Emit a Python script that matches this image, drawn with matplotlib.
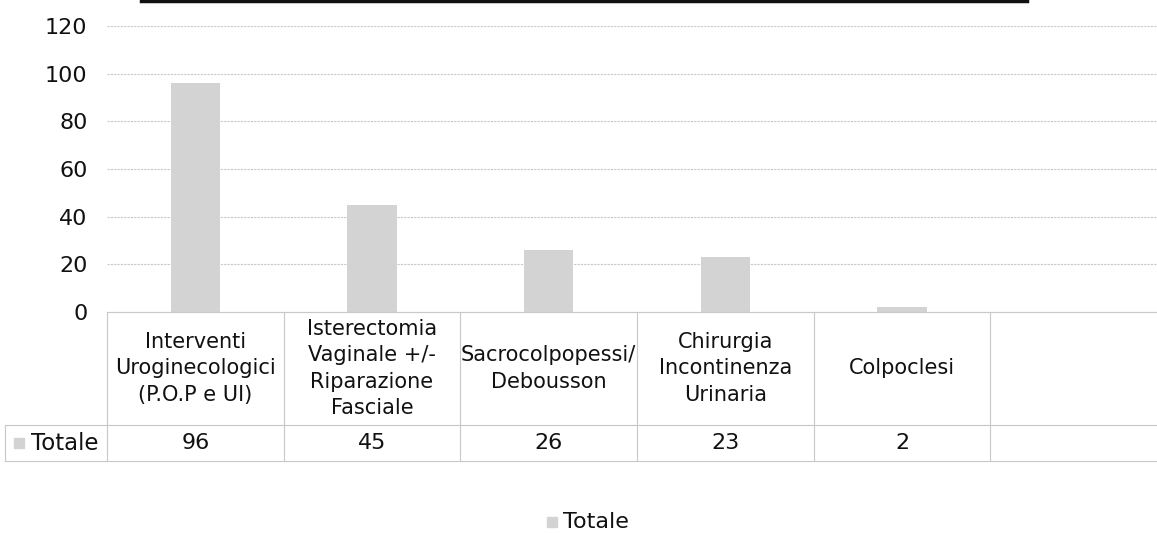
import matplotlib
matplotlib.use("Agg")
import matplotlib.pyplot as plt
from matplotlib.lines import Line2D
from matplotlib.patches import Rectangle
import matplotlib.transforms as mtransforms

# chart data
categories = [
    "Interventi\nUroginecologici\n(P.O.P e UI)",
    "Isterectomia\nVaginale +/-\nRiparazione\nFasciale",
    "Sacrocolpopessi/\nDebousson",
    "Chirurgia\nIncontinenza\nUrinaria",
    "Colpoclesi",
    "",
]
values = [96, 45, 26, 23, 2, None]
series_name = "Totale"
y_ticks = [0, 20, 40, 60, 80, 100, 120]

bar_color = "#d3d3d3"
grid_color = "#c8c8c8"
text_color = "#111111"

W, H = 1157, 533
fig = plt.figure(figsize=(W / 100, H / 100), dpi=100)
plt.rcParams['font.family'] = ['DejaVu Sans']


def fx(px):
    return px / W


def fy(py):
    return 1 - py / H


ax_left, ax_right, ax_top, ax_bottom = 107, 1167, 26, 312
ax = fig.add_axes([fx(ax_left), fy(ax_bottom), fx(ax_right - ax_left), fy(ax_top) - fy(ax_bottom)])

xs = list(range(len(categories)))
bx = [x for x, v in zip(xs, values) if v is not None]
bv = [v for v in values if v is not None]
ax.bar(bx, bv, width=0.28, color=bar_color, zorder=2)

ax.set_xlim(-0.5, len(categories) - 0.5)
ax.set_ylim(0, 120)
ax.set_yticks(y_ticks)
ax.set_yticklabels([str(t) for t in y_ticks], fontsize=16, color=text_color)
ax.tick_params(axis='y', length=0, pad=14)
ax.set_xticks([])
for s in ["top", "right", "left"]:
    ax.spines[s].set_visible(False)
ax.spines["bottom"].set_color(grid_color)
ax.spines["bottom"].set_linewidth(0.8)
ax.yaxis.grid(True, color=grid_color, linewidth=0.8, linestyle=(0, (2, 1)))
ax.set_axisbelow(True)

# data table under the plot (y in axes fraction, x in data)
ax_h = ax_bottom - ax_top
row1 = -(425 - ax_bottom) / ax_h
row2 = -(461 - ax_bottom) / ax_h
tr = mtransforms.blended_transform_factory(ax.transData, ax.transAxes)
tab_style = dict(color=grid_color, linewidth=0.8, clip_on=False)

for i in range(len(categories) + 1):
    ax.add_line(Line2D([i - 0.5, i - 0.5], [0, row2], transform=tr, **tab_style))

left_data = ax.transData.inverted().transform((5, 0))[0]
for y in (row1, row2):
    ax.add_line(Line2D([left_data, len(categories) - 0.5], [y, y], transform=tr, **tab_style))
ax.add_line(Line2D([left_data, left_data], [row1, row2], transform=tr, **tab_style))

for x, cat, v in zip(xs, categories, values):
    ax.text(x, row1 / 2, cat, transform=tr, ha='center', va='center',
            fontsize=15, color=text_color, linespacing=1.38)
    if v is not None:
        ax.text(x, (row1 + row2) / 2, str(v), transform=tr, ha='center', va='center',
                fontsize=16, color=text_color)

# row label with key
fig.patches.append(Rectangle((fx(14), fy(448)), fx(10), fy(438) - fy(448), transform=fig.transFigure,
                             color=bar_color))
fig.text(fx(31), fy(443), series_name, ha='left', va='center', fontsize=16.5, color=text_color)

# legend at the bottom
fig.patches.append(Rectangle((fx(547), fy(527)), fx(10), fy(517) - fy(527), transform=fig.transFigure,
                             color=bar_color))
fig.text(fx(563), fy(522), series_name, ha='left', va='center', fontsize=16, color=text_color)

# black rule at top edge from the scanned page
fig.add_artist(Line2D([fx(141), fx(1027)], [fy(1), fy(1)], color="#111111", linewidth=2.5,
                      transform=fig.transFigure))

fig.savefig("out.png", dpi=100)
